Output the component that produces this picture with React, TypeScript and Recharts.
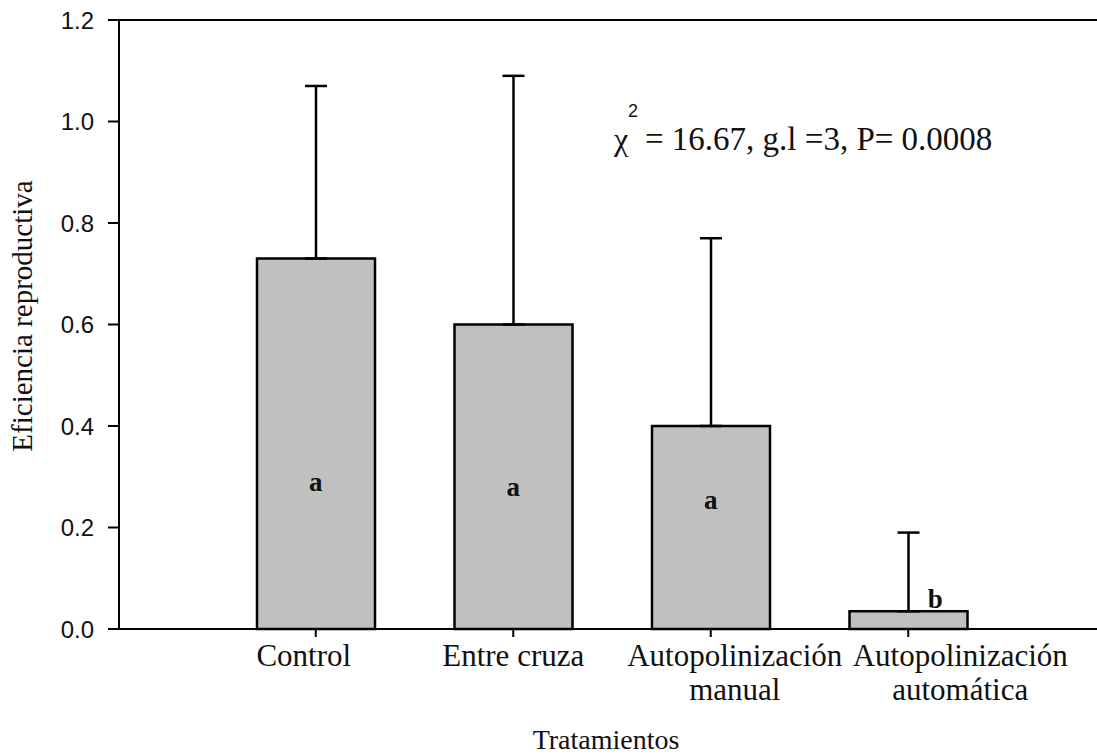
import React from "react"
import {
  ComposedChart,
  Bar,
  Scatter,
  ErrorBar,
  XAxis,
  YAxis,
  ReferenceLine,
} from "recharts"

const categories = [
  "Control",
  "Entre cruza",
  "Autopolinización\nmanual",
  "Autopolinización\nautomática",
]
const means = [0.73, 0.6, 0.4, 0.035]
const upperErr = [0.34, 0.49, 0.37, 0.155]
const letters = ["a", "a", "a", "b"]
const letterPos = [0.29, 0.28, 0.255, 0.06]
const yTicks = [0, 0.2, 0.4, 0.6, 0.8, 1.0, 1.2]

const data = categories.map((name, i) => ({
  name,
  mean: means[i],
  err: [0, upperErr[i]],
  letter: letters[i],
  letterY: letterPos[i],
}))

const SERIF = "'Liberation Serif', 'Times New Roman', serif"
const SANS = "'Liberation Sans', Arial, sans-serif"

// the long two-line labels are nudged sideways so they do not collide
const TICK_SHIFT = [-12, 0, 24, 52]

// eslint-disable-next-line @typescript-eslint/no-explicit-any
function CategoryTick({ x, y, payload, index }: any) {
  const lines = String(payload.value).split("\n")
  const cx = x + (TICK_SHIFT[index] ?? 0)
  return (
    <text x={cx} y={y} textAnchor="middle" fontFamily={SERIF} fontSize={31} fill="#111">
      {lines.map((l, i) => (
        <tspan key={i} x={cx} dy={i === 0 ? 27 : 34}>
          {l}
        </tspan>
      ))}
    </text>
  )
}

// eslint-disable-next-line @typescript-eslint/no-explicit-any
function LetterMark({ cx, cy, payload }: any) {
  // letter sitting above a short bar is moved aside of the error bar
  const dx = payload.letterY > payload.mean ? 27 : 0
  return (
    <text x={cx + dx} y={cy} dy={9} textAnchor="middle" fontFamily={SERIF} fontWeight="bold" fontSize={27} fill="#111">
      {payload.letter}
    </text>
  )
}

export default function App() {
  return (
    <div style={{ position: "absolute", left: 0, top: 0, width: 1097, height: 756, background: "#fff" }}>
      <ComposedChart width={1097} height={756} data={data} margin={{ top: 20, right: 0, left: 0, bottom: 0 }}>
        <XAxis
          dataKey="name"
          height={127}
          padding={{ left: 98, right: 90 }}
          axisLine={{ stroke: "#000", strokeWidth: 2 }}
          tickLine={{ stroke: "#000", strokeWidth: 2 }}
          tickSize={8}
          tick={<CategoryTick />}
          interval={0}
        />
        <YAxis
          width={119}
          domain={[0, 1.2]}
          ticks={yTicks}
          tickFormatter={(v: number) => v.toFixed(1)}
          axisLine={{ stroke: "#000", strokeWidth: 2 }}
          tickLine={{ stroke: "#000", strokeWidth: 2 }}
          tickSize={11}
          tickMargin={14}
          tick={{ fill: "#111", fontSize: 24, fontFamily: SANS }}
        />
        <ReferenceLine y={1.2} stroke="#000" strokeWidth={2} />
        <Bar dataKey="mean" fill="#c0c0c0" stroke="#000" strokeWidth={2.5} barSize={118} isAnimationActive={false}>
          <ErrorBar dataKey="err" direction="y" width={11} stroke="#000" strokeWidth={2.5} />
        </Bar>
        <Scatter dataKey="letterY" shape={<LetterMark />} isAnimationActive={false} />
      </ComposedChart>
      <svg width={1097} height={756} style={{ position: "absolute", left: 0, top: 0, pointerEvents: "none" }}>
        <text transform="translate(32,316) rotate(-90)" textAnchor="middle" fontFamily={SERIF} fontSize={29} fill="#111">
          Eficiencia reproductiva
        </text>
        <text x={606} y={749} textAnchor="middle" fontFamily={SERIF} fontSize={28} fill="#111">
          Tratamientos
        </text>
        <text x={614} y={150} fontFamily={SERIF} fontSize={32} fill="#111">
          χ
        </text>
        <text x={628} y={117} fontFamily={SANS} fontSize={18} fill="#111">
          2
        </text>
        <text x={645} y={150} fontFamily={SERIF} fontSize={33} fill="#111">
          = 16.67, g.l =3, P= 0.0008
        </text>
      </svg>
    </div>
  )
}
